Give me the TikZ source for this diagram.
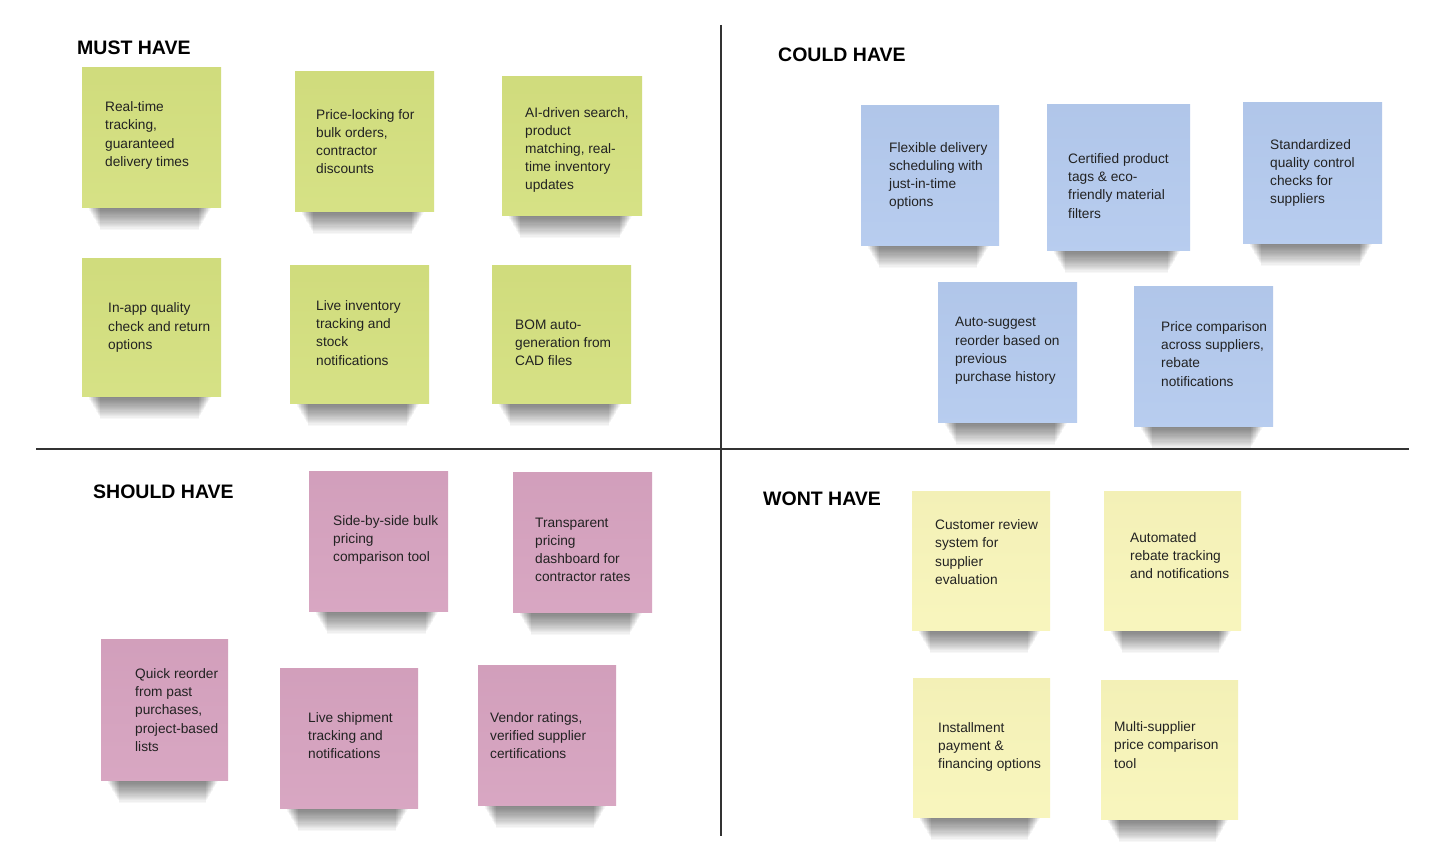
\documentclass[tikz,border=0pt]{standalone}
\usepackage{fontspec}
\setmainfont{Liberation Sans}
\pgfdeclarelayer{bg}
\pgfsetlayers{bg,main}
\definecolor{mustgreen}{HTML}{D4E07F}
\definecolor{couldblue}{HTML}{B4CAEE}
\definecolor{shouldpink}{HTML}{D6A2BF}
\definecolor{wontyellow}{HTML}{F8F5BA}
\definecolor{inkgray}{HTML}{222222}
\begin{document}
\begin{tikzpicture}[x=1pt,y=-1pt,
  note/.style = {top color=#1!98!black,bottom color=#1!95!white,draw=none,minimum width=139pt,minimum height=139pt,inner sep=0pt},
  txt/.style = {anchor=west,align=left,inner sep=0pt,text=inkgray,font=\fontsize{13.7}{18.2}\selectfont},
  title/.style = {anchor=west,inner sep=0pt,font=\fontsize{19.5}{22}\selectfont\bfseries}]
%ejes
\useasboundingbox (0,0) rectangle (1454,864);
\coordinate (top) at (721,25);
\coordinate (bot) at (721,836);
\coordinate (lft) at (36,449);
\coordinate (rgt) at (1409,449);
\draw[line width=2pt,black!80] (top) -- (bot);
\draw[line width=2pt,black!80] (lft) -- (rgt);

%MUST HAVE
\node[title] (must) at (77,48) {MUST HAVE};
\node[note=mustgreen] (m1) at (151.5,137.5) {};
\node[note=mustgreen] (m2) at (364.5,141.5) {};
\node[note=mustgreen,minimum width=140pt,minimum height=138pt] (m3) at (572,146) {};
\node[note=mustgreen,minimum height=138pt] (m4) at (151.5,327) {};
\node[note=mustgreen,minimum height=138pt] (m5) at (359.5,334) {};
\node[note=mustgreen,minimum height=138pt] (m6) at (561.5,334) {};
\node[txt] (m1t) at (105,135.5) {Real-time\\tracking,\\guaranteed\\delivery times};
\node[txt] (m2t) at (316,141.5) {Price-locking for\\bulk orders,\\contractor\\discounts};
\node[txt] (m3t) at (525,150) {AI-driven search,\\product\\matching, real-\\time inventory\\updates};
\node[txt] (m4t) at (108,327.5) {In-app quality\\check and return\\options};
\node[txt] (m5t) at (316,333) {Live inventory\\tracking and\\stock\\notifications};
\node[txt] (m6t) at (515,342.5) {BOM auto-\\generation from\\CAD files};

%COULD HAVE
\node[title] (could) at (778,55) {COULD HAVE};
\node[note=couldblue,minimum width=138pt] (c1) at (930,175.5) {};
\node[note=couldblue,minimum width=143pt,minimum height=145pt] (c2) at (1118.5,177.5) {};
\node[note=couldblue,minimum height=140pt] (c3) at (1312.5,173) {};
\node[note=couldblue,minimum height=140pt] (c4) at (1007.5,352) {};
\node[note=couldblue,minimum height=140pt] (c5) at (1203.5,356) {};
\node[txt] (c1t) at (889,176) {Flexible delivery\\scheduling with\\just-in-time\\options};
\node[txt] (c2t) at (1068,186) {Certified product\\tags \& eco-\\friendly material\\filters};
\node[txt] (c3t) at (1270,173) {Standardized\\quality control\\checks for\\suppliers};
\node[txt] (c4t) at (955,351) {Auto-suggest\\reorder based on\\previous\\purchase history};
\node[txt] (c5t) at (1161,354) {Price comparison\\across suppliers,\\rebate\\notifications};

%SHOULD HAVE
\node[title] (should) at (93,492) {SHOULD HAVE};
\node[note=shouldpink,minimum height=140pt] (s1) at (378.5,541) {};
\node[note=shouldpink,minimum height=140pt] (s2) at (582.5,542) {};
\node[note=shouldpink,minimum width=127pt,minimum height=141pt] (s3) at (164.5,709.5) {};
\node[note=shouldpink,minimum width=138pt,minimum height=140pt] (s4) at (349,738) {};
\node[note=shouldpink,minimum width=138pt,minimum height=140pt] (s5) at (547,735) {};
\node[txt] (s1t) at (333,540) {Side-by-side bulk\\pricing\\comparison tool};
\node[txt] (s2t) at (535,550) {Transparent\\pricing\\dashboard for\\contractor rates};
\node[txt] (s3t) at (135,710) {Quick reorder\\from past\\purchases,\\project-based\\lists};
\node[txt] (s4t) at (308,735.5) {Live shipment\\tracking and\\notifications};
\node[txt] (s5t) at (490,735.5) {Vendor ratings,\\verified supplier\\certifications};

%WONT HAVE
\node[title] (wont) at (763,499) {WONT HAVE};
\node[note=wontyellow,minimum width=138pt] (w1) at (981,560.5) {};
\node[note=wontyellow,minimum width=137pt] (w2) at (1172.5,560.5) {};
\node[note=wontyellow,minimum width=137pt] (w3) at (981.5,747.5) {};
\node[note=wontyellow,minimum width=137pt] (w4) at (1169.5,749.5) {};
\node[txt] (w1t) at (935,552) {Customer review\\system for\\supplier\\evaluation};
\node[txt] (w2t) at (1130,555.5) {Automated\\rebate tracking\\and notifications};
\node[txt] (w3t) at (938,747) {Installment\\payment \&\\financing options};
\node[txt] (w4t) at (1114,745) {Multi-supplier\\price comparison\\tool};

%sombras debajo de cada nota
\begin{pgfonlayer}{bg}
\fill[white] (0,0) rectangle (1454,864);
\foreach \n in {m1,m2,m3,m4,m5,m6,c1,c2,c3,c4,c5,s1,s2,s3,s4,s5,w1,w2,w3,w4}
  \foreach \i in {1,...,18}
    \fill[black,opacity=0.03] ([xshift=6pt+0.7*\i pt,yshift=2pt]\n.south west) rectangle ([xshift=-10pt-0.7*\i pt,yshift=-1pt-1.2*\i pt]\n.south east);
\end{pgfonlayer}
\end{tikzpicture}
\end{document}
